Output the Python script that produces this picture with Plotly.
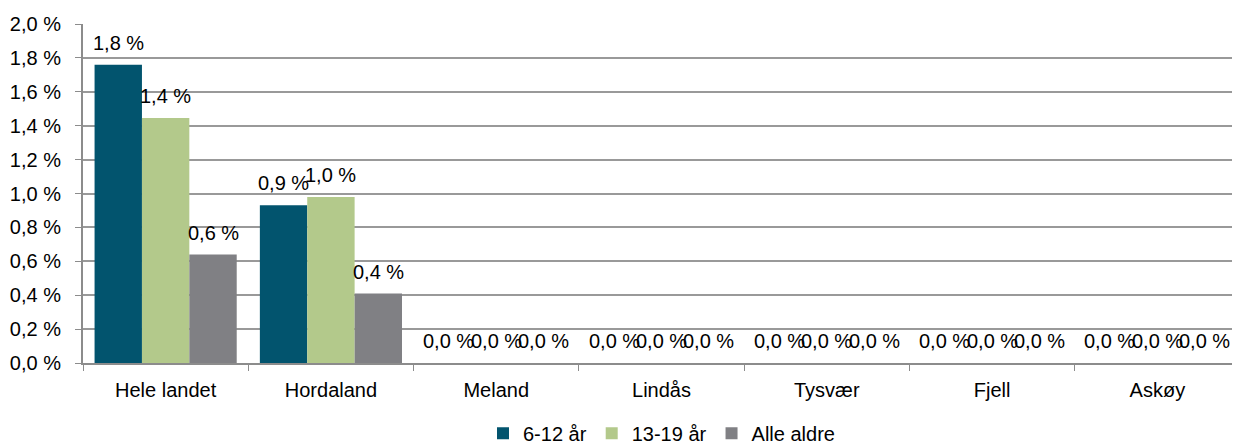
import plotly.graph_objects as go

categories = ["Hele landet", "Hordaland", "Meland", "Lindås", "Tysvær", "Fjell", "Askøy"]
series_names = ["6-12 år", "13-19 år", "Alle aldre"]
values_6_12 = [1.76, 0.93, 0.0, 0.0, 0.0, 0.0, 0.0]
values_13_19 = [1.445, 0.98, 0.0, 0.0, 0.0, 0.0, 0.0]
values_alle = [0.64, 0.41, 0.0, 0.0, 0.0, 0.0, 0.0]
colors = ["#02546e", "#b3c98b", "#808084"]

all_values = [values_6_12, values_13_19, values_alle]
bargap = 0.14
bar_w = (1 - bargap) / len(all_values)

fig = go.Figure()

for name, vals, color in zip(series_names, all_values, colors):
    fig.add_trace(go.Bar(
        x=categories,
        y=vals,
        name=name,
        marker=dict(color=color, line=dict(width=0)),
    ))

# data labels above the bars, like excel puts them
annotations = []
for j, vals in enumerate(all_values):
    for i, v in enumerate(vals):
        annotations.append(dict(
            x=i + (j - 1) * bar_w,
            y=v,
            xref="x",
            yref="y",
            text="{:.1f} %".format(v).replace(".", ","),
            showarrow=False,
            yanchor="middle",
            yshift=22,
            font=dict(size=20, color="#000000"),
        ))

# page body has an 8px margin, so the figure is shifted by 8px
fig.update_layout(
    width=1232,
    height=445,
    margin=dict(l=75, r=0, t=16, b=90),
    paper_bgcolor="white",
    plot_bgcolor="white",
    font=dict(family="Liberation Sans, Arial", size=20, color="#000000"),
    separators=", ",
    barmode="group",
    bargap=bargap,
    bargroupgap=0,
    annotations=annotations,
    legend=dict(
        orientation="h",
        x=0.5,
        xanchor="center",
        y=-0.265,
        yanchor="bottom",
        font=dict(size=20),
        itemwidth=30,
        tracegroupgap=0,
    ),
    xaxis=dict(
        automargin=False,
        showline=True,
        linecolor="#8c8c8c",
        linewidth=2,
        ticks="outside",
        tickson="boundaries",
        ticklen=6,
        tickcolor="#8c8c8c",
        ticklabelstandoff=8,
        showgrid=False,
    ),
    yaxis=dict(
        automargin=False,
        range=[0, 2.0],
        dtick=0.2,
        tickformat=".1f",
        ticksuffix=" %",
        ticklabelstandoff=10,
        showline=True,
        linecolor="#8c8c8c",
        linewidth=2,
        ticks="outside",
        ticklen=6,
        tickcolor="#8c8c8c",
        showgrid=True,
        gridcolor="#999999",
        gridwidth=2,
        zeroline=False,
    ),
)

fig.write_html("out.html")
